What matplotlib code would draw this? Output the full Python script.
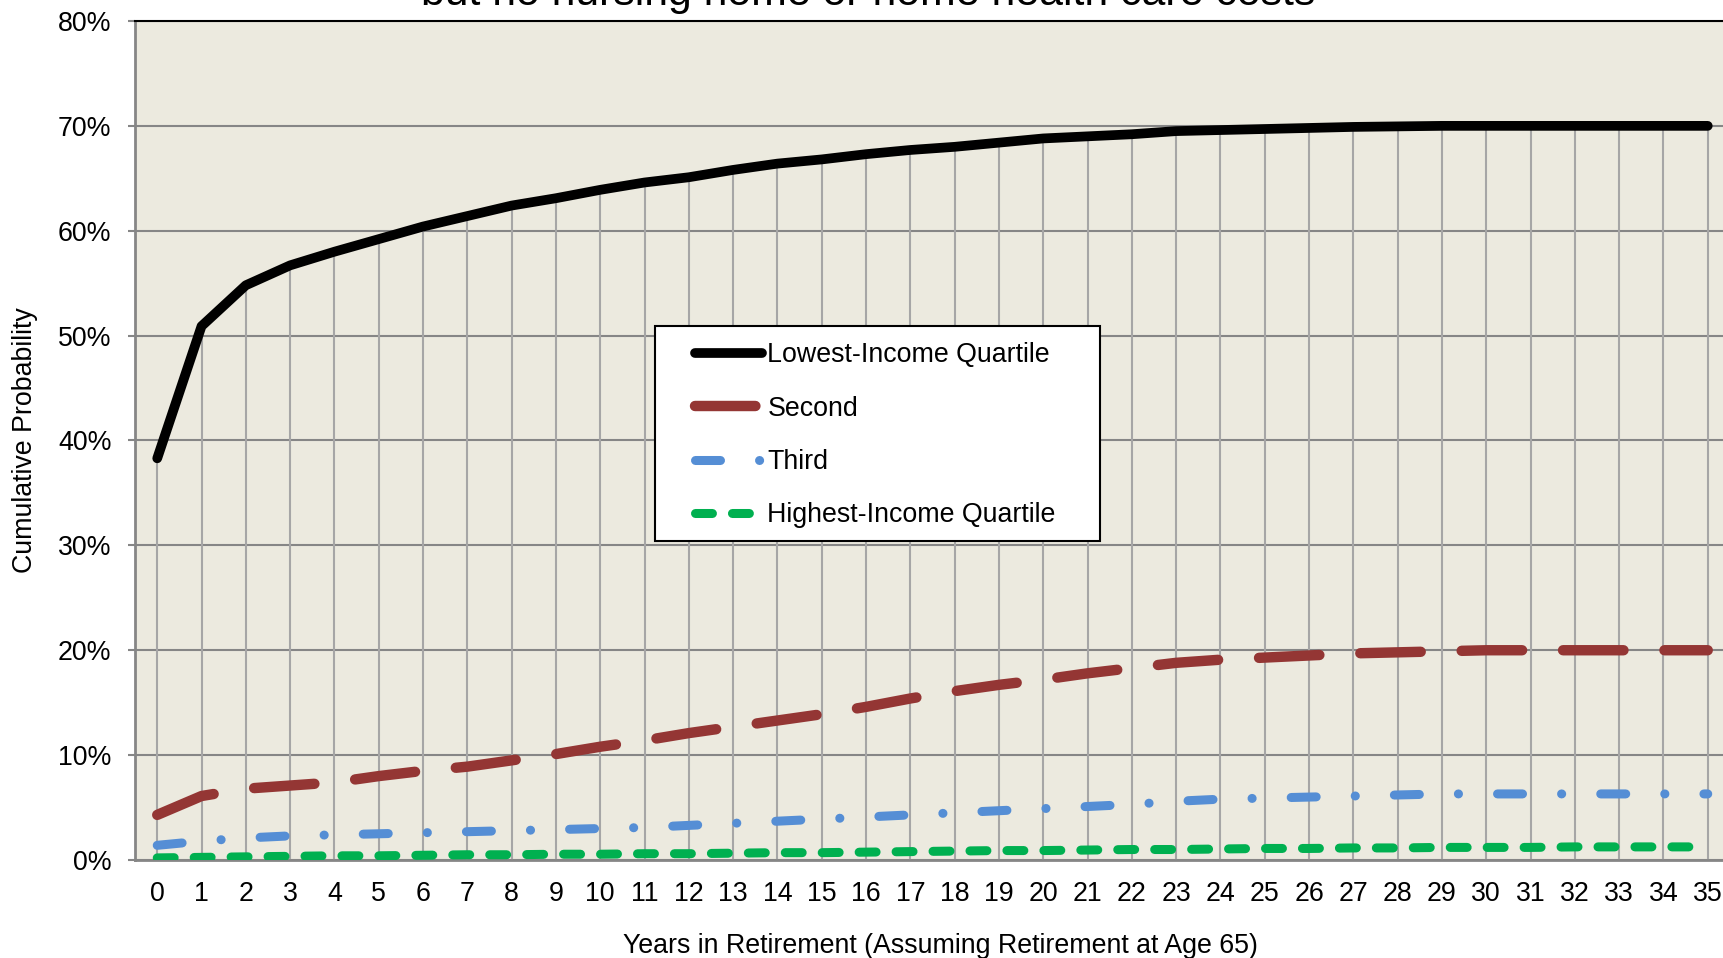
import matplotlib
matplotlib.use("Agg")
import matplotlib.pyplot as plt
from matplotlib.patches import Rectangle

plt.rcParams['font.family'] = ['Liberation Sans', 'DejaVu Sans']
plt.rcParams['lines.scale_dashes'] = False

# data (cumulative probability, %)
years = list(range(36))
lowest = [38.3, 50.9, 54.8, 56.7, 58.0, 59.2, 60.4, 61.4, 62.4, 63.1,
          63.9, 64.6, 65.1, 65.8, 66.4, 66.8, 67.3, 67.7, 68.0, 68.4,
          68.8, 69.0, 69.2, 69.5, 69.6, 69.7, 69.8, 69.9, 69.95, 70.0,
          70.0, 70.0, 70.0, 70.0, 70.0, 70.0]
second = [4.3, 6.1, 6.8, 7.1, 7.4, 8.0, 8.5, 8.9, 9.5, 10.1,
          10.8, 11.4, 12.1, 12.7, 13.3, 13.9, 14.6, 15.4, 16.1, 16.7,
          17.2, 17.8, 18.3, 18.8, 19.1, 19.3, 19.5, 19.7, 19.8, 19.9,
          20.0, 20.0, 20.0, 20.0, 20.0, 20.0]
third = [1.4, 1.8, 2.1, 2.3, 2.4, 2.5, 2.6, 2.7, 2.8, 2.9,
         3.0, 3.1, 3.3, 3.5, 3.7, 3.9, 4.1, 4.3, 4.5, 4.7,
         4.9, 5.1, 5.3, 5.6, 5.8, 5.9, 6.0, 6.1, 6.2, 6.3,
         6.3, 6.3, 6.3, 6.3, 6.3, 6.3]
highest = [0.2, 0.25, 0.3, 0.35, 0.4, 0.4, 0.45, 0.5, 0.5, 0.55,
           0.55, 0.6, 0.6, 0.65, 0.7, 0.7, 0.75, 0.8, 0.85, 0.9,
           0.9, 0.95, 1.0, 1.0, 1.05, 1.1, 1.1, 1.15, 1.15, 1.2,
           1.2, 1.2, 1.25, 1.25, 1.25, 1.25]

y_ticks = [0, 10, 20, 30, 40, 50, 60, 70, 80]
y_labels = ['0%', '10%', '20%', '30%', '40%', '50%', '60%', '70%', '80%']
series_names = ['Lowest-Income Quartile', 'Second', 'Third', 'Highest-Income Quartile']

fs = 19.3

fig = plt.figure(figsize=(17.23, 9.58), dpi=100)
ax = fig.add_axes([0.0784, 0.1023, 0.9256, 0.8758])
ax.set_facecolor('#ECEADF')

# drop lines from the top series down to the axis
ax.vlines(years, 0, lowest, color='#A6A6A6', lw=1.5, zorder=1)

ax.plot(years, lowest, color='black', lw=7, solid_capstyle='round',
        solid_joinstyle='round', label=series_names[0], zorder=3)
ax.plot(years, second, color='#943634', lw=7.5, dashes=(43.5, 29.5),
        dash_capstyle='round', label=series_names[1], zorder=3)
ax.plot(years, third, color='#558ED5', lw=6.5, dashes=(18, 28.1, 0.1, 28.1),
        dash_capstyle='round', label=series_names[2], zorder=3)
ax.plot(years, highest, color='#00B050', lw=6.5, dashes=(12.2, 14.4),
        dash_capstyle='round', label=series_names[3], zorder=3)

ax.set_xlim(-0.5, 35.5)
ax.set_ylim(0, 80)
ax.set_xticks(years)
ax.set_xticklabels([str(y) for y in years])
ax.set_yticks(y_ticks)
ax.set_yticklabels(y_labels)
ax.tick_params(axis='x', length=0, pad=15, labelsize=fs)
ax.tick_params(axis='y', length=5, width=1.5, color='#868686', pad=12, labelsize=fs)
ax.yaxis.grid(True, color='#868686', lw=1.5, zorder=0)
ax.set_axisbelow(True)

for side in ['left', 'bottom']:
    ax.spines[side].set_color('#868686')
    ax.spines[side].set_linewidth(2)
ax.spines['top'].set_color('black')
ax.spines['top'].set_linewidth(1.5)
ax.spines['right'].set_visible(False)

ax.set_xlabel('Years in Retirement (Assuming Retirement at Age 65)', fontsize=fs)
ax.xaxis.set_label_coords(0.505, -0.087)
ax.set_ylabel('Cumulative Probability', fontsize=fs)
ax.yaxis.set_label_coords(-0.0606, 0.5)

# legend box
ax.add_patch(Rectangle((0.326, 0.380), 0.279, 0.2565, transform=ax.transAxes,
                       facecolor='white', edgecolor='black', lw=1.5, zorder=4))
ax.legend(loc='upper left', bbox_to_anchor=(0.351, 0.617), frameon=False,
          fontsize=fs, handlelength=2.5, handletextpad=0.2, labelspacing=1.02,
          borderpad=0, borderaxespad=0).set_zorder(5)

fig.text(0.504, 0.9948, 'but no nursing home or home health care costs',
         ha='center', va='baseline', fontsize=30.8)

fig.savefig('out.png', dpi=100)
